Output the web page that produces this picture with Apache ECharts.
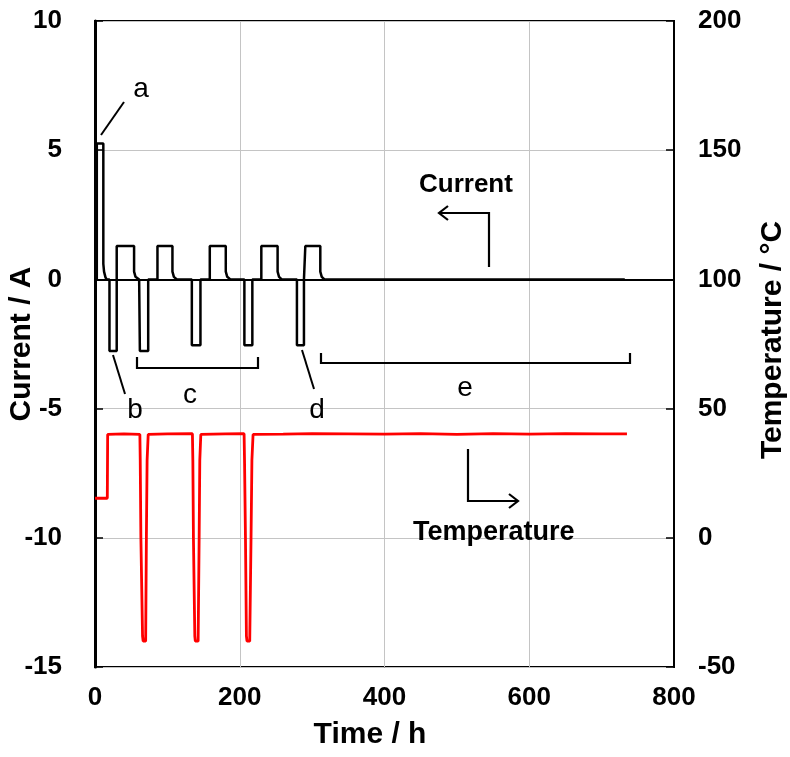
<!DOCTYPE html>
<html><head><meta charset="utf-8">
<script src="https://cdn.jsdelivr.net/npm/echarts@6/dist/echarts.min.js"></script>
<style>html,body{margin:0;padding:0;background:#fff}#c{width:790px;height:757px}</style>
</head><body><div id="c"></div>
<script>
// Current (A) vs time (h)
var currentData = [
  [2.5,0],[2.5,5.26],[11.5,5.26],[11.5,0.6],[12.5,0.3],[14.5,0.08],[16,0],[20,0],
  [20,-2.77],[30,-2.77],[30,1.29],[54,1.29],[54,0.3],[56,0.1],[61,0],[62,0],
  [62,-2.77],[73.5,-2.77],[73.5,0],[86.3,0],[86.3,1.29],[107,1.29],[107,0.3],[109,0.1],[113,0],[133.8,0],
  [133.8,-2.55],[145.7,-2.55],[145.7,0],[158.6,0],[158.6,1.29],[180.7,1.29],[180.7,0.3],[182.7,0.1],[187,0],[206.4,0],
  [206.4,-2.55],[217.4,-2.55],[217.4,0],[229.8,0],[229.8,1.29],[252.3,1.29],[252.3,0.3],[254.3,0.1],[258,0],[279,0],
  [279,-2.55],[288.7,-2.55],[288.7,0],[290.6,0],[290.6,1.29],[311.3,1.29],[311.3,0.3],[313.3,0.1],[317,0],[732,0]
];
// Temperature (°C) vs time (h)
var temperatureData = [
  [0,15.3],[17,15.3],[17.5,40],[40,40.2],[62,40],[62.5,30],[63.4,0],[65.7,-38],[66.5,-40],[70,-40],[71,0],[72,30],[73.5,40],
  [100,40.2],[134.6,40.3],[135.2,30],[136,0],[137.9,-38],[138.6,-40],[142.5,-40],[143.9,0],[144.8,30],[146.2,40],
  [180,40.2],[206,40.3],[206.6,30],[207.9,0],[209.2,-38],[210,-40],[213.8,-40],[215.6,0],[216.8,30],[218.4,40],
  [260,40.1],[300,40.3],[350,40.2],[400,40.1],[450,40.3],[500,40.0],[550,40.3],[600,40.1],[650,40.3],[700,40.2],[735,40.2]
];
var xTicks = [0,200,400,600,800];
var leftTicks = [-15,-10,-5,0,5,10];
var rightTicks = [-50,0,50,100,150,200];

var chart = echarts.init(document.getElementById('c'));
var G = {left:95, right:116, top:21, bottom:90};
var FF = '"Liberation Sans", Arial, sans-serif';
function line(x1,y1,x2,y2){return {type:'line',shape:{x1:x1,y1:y1,x2:x2,y2:y2},style:{stroke:'#000',lineWidth:2},z:100};}
function poly(pts){return {type:'polyline',shape:{points:pts},style:{stroke:'#000',lineWidth:2.2,fill:null},z:100};}
function txt(x,y,t,size,bold,rot){return {type:'text',x:x,y:y,rotation:rot||0,style:{text:t,fill:'#000',font:(bold?'bold ':'')+size+'px '+FF,textAlign:'center',textVerticalAlign:'middle'},z:100};}

chart.setOption({
  animation:false,
  backgroundColor:'#fff',
  grid:{left:G.left,right:G.right,top:G.top,bottom:G.bottom,show:true,borderColor:'#000',borderWidth:2,containLabel:false},
  xAxis:{type:'value',min:0,max:800,interval:200,
    axisLine:{show:true,lineStyle:{color:'#000',width:2}},
    axisTick:{show:false},
    splitLine:{show:true,lineStyle:{color:'#c4c4c4',width:1}},
    axisLabel:{color:'#000',fontSize:26,fontWeight:'bold',fontFamily:FF,margin:18}
  },
  yAxis:[
    {type:'value',min:-15,max:10,interval:5,position:'left',
      axisLine:{show:true,lineStyle:{color:'#000',width:3}},
      axisTick:{show:true,inside:true,length:8,lineStyle:{color:'#000',width:1.5}},
      splitLine:{show:true,lineStyle:{color:'#c4c4c4',width:1}},
      axisLabel:{color:'#000',fontSize:26,fontWeight:'bold',fontFamily:FF,margin:33}
    },
    {type:'value',min:-50,max:200,interval:50,position:'right',
      axisLine:{show:true,lineStyle:{color:'#000',width:2}},
      axisTick:{show:true,inside:true,length:8,lineStyle:{color:'#000',width:1.5}},
      splitLine:{show:false},
      axisLabel:{color:'#000',fontSize:26,fontWeight:'bold',fontFamily:FF,margin:24,align:'left'}
    }
  ],
  series:[
    {type:'line',data:temperatureData,yAxisIndex:1,showSymbol:false,symbol:'none',lineStyle:{color:'#ff0000',width:2.8},z:3},
    {type:'line',data:currentData,yAxisIndex:0,showSymbol:false,symbol:'none',lineStyle:{color:'#000',width:2.5},z:4}
  ],
  graphic:[
    txt(22,344,'Current / A',30,true,Math.PI/2),
    txt(773,340,'Temperature / °C',30,true,Math.PI/2),
    txt(370,735,'Time / h',30,true,0),
    // a
    line(101,135,124,102), txt(141,89,'a',28,false),
    // b
    line(113,355,125,394), txt(135,410,'b',28,false),
    // c bracket
    poly([[137,357],[137,368],[258,368],[258,357]]), txt(190,395,'c',28,false),
    // d
    line(302,350,314,389), txt(317,410,'d',28,false),
    // e bracket
    poly([[321,353],[321,363],[630,363],[630,353]]), txt(465,388,'e',28,false),
    // Current arrow
    poly([[489,267],[489,213],[439,213]]), poly([[448,206],[439,213],[448,220]]),
    {type:'text',x:419,y:185,style:{text:'Current',fill:'#000',font:'bold 26px '+FF,textAlign:'left',textVerticalAlign:'middle'},z:100},
    // Temperature arrow
    poly([[468,449],[468,501],[518,501]]), poly([[509,494],[518,501],[509,508]]),
    {type:'text',x:413,y:533,style:{text:'Temperature',fill:'#000',font:'bold 27px '+FF,textAlign:'left',textVerticalAlign:'middle'},z:100}
  ]
});
</script></body></html>
